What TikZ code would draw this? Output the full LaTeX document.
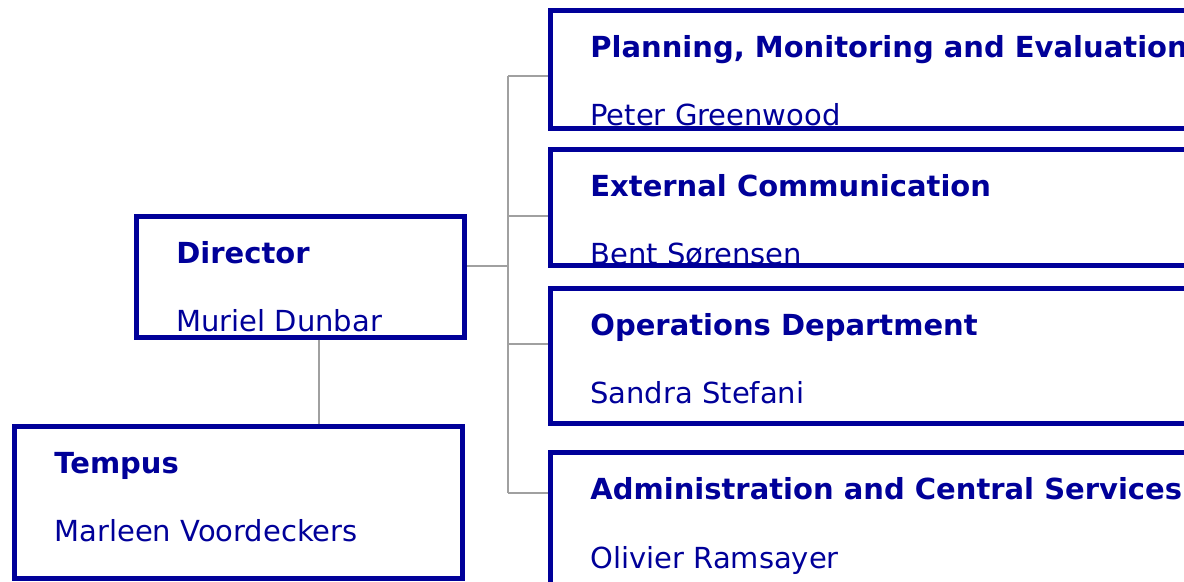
\documentclass[tikz,border=0pt]{standalone}
\usepackage{fontspec}
\setmainfont{DejaVu Sans}
\usetikzlibrary{positioning}
\definecolor{orgblue}{RGB}{0,0,153}
\definecolor{linkgray}{RGB}{160,160,160}

\begin{document}
\begin{tikzpicture}[
    x=0.5pt, y=-0.5pt,
    node distance=8pt,
    unit/.style={rectangle, draw=orgblue, line width=2.5pt, anchor=north west, inner sep=0pt},
    ttl/.style={anchor=base west, text=orgblue, inner sep=0pt,
                font=\fontsize{14.5}{17}\selectfont\bfseries},
    who/.style={anchor=base west, text=orgblue, inner sep=0pt,
                font=\fontsize{14.5}{17}\selectfont},
    conn/.style={draw=linkgray, line width=1pt}
]
\useasboundingbox (0,0) rectangle (1184,582);
\clip (0,0) rectangle (1184,582);

%% ── Boxes ───────────────────────────────────────────────────────
\node[unit, minimum width=164pt, minimum height=60.5pt] (director) at (134,214) {};
\node[unit, minimum width=224pt, minimum height=76pt]   (tempus)   at (12,424)  {};

\node[unit, minimum width=400pt, minimum height=59pt]   (pme)      at (548,8)   {};
\node[unit, minimum width=400pt, minimum height=58pt,   below=8pt of pme]  (ext) {};
\node[unit, minimum width=400pt, minimum height=67.5pt, below=9pt of ext]  (ops) {};
\node[unit, minimum width=400pt, minimum height=70pt,   below=12pt of ops] (adm) {};

%% ── Unit names and heads ────────────────────────────────────────
\foreach \b/\t/\p in {director/Director/Muriel Dunbar,
                      tempus/Tempus/Marleen Voordeckers,
                      pme/{Planning, Monitoring and Evaluation}/Peter Greenwood,
                      ext/External Communication/Bent Sørensen,
                      ops/Operations Department/Sandra Stefani,
                      adm/Administration and Central Services/Olivier Ramsayer}{
    \node[ttl] (\b-t) at ([xshift=21pt,yshift=-25pt]\b.north west) {\t};
    \node[who] (\b-p) at ([xshift=21pt,yshift=-59pt]\b.north west) {\p};
}

%% ── Connectors ──────────────────────────────────────────────────
\coordinate (trunk) at (508,76);
\coordinate (tlink) at (319,0);

\draw[conn] (director.south -| tlink) -- (tempus.north -| tlink);
\draw[conn] (director.east |- 0,266) -- (trunk |- 0,266);
\draw[conn] (trunk) -- (trunk |- 0,493);
\foreach \b/\y in {pme/76, ext/216, ops/344, adm/493}
    \draw[conn] (trunk |- 0,\y) -- (\b.west |- 0,\y);

\end{tikzpicture}
\end{document}
